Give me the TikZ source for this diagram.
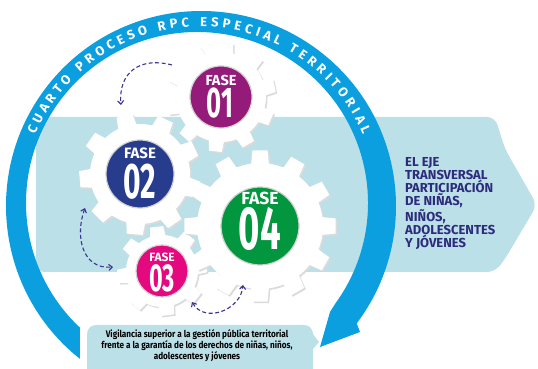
\documentclass[tikz,border=0pt]{standalone}
\usepackage{fontspec}
\setmainfont{Fira Sans}
\newfontfamily\numfont[FakeStretch=0.6]{Fira Sans}
\newfontfamily\condfont[FakeStretch=0.86]{Fira Sans}
\usetikzlibrary{positioning, arrows.meta, decorations.text}

\definecolor{ringblue}{HTML}{0B9FDF}
\definecolor{bandblue}{HTML}{BBE0E7}
\definecolor{fasepurple}{HTML}{951B7B}
\definecolor{fasenavy}{HTML}{283C8E}
\definecolor{fasepink}{HTML}{E4097F}
\definecolor{fasegreen}{HTML}{02963F}
\definecolor{ejeblue}{HTML}{2E2B7C}
\definecolor{dashblue}{HTML}{3A3590}

% gear: x, y, teeth, root radius, outer radius, rotation
\newcommand{\gear}[6]{%
  \foreach \sx/\sy/\gc in {1.5/-1.5/gray!28, 0/0/white}{
    \fill[fill=\gc, shift={(#1+\sx,#2+\sy)}, rotate=#6]
      ({0.73*360/#3}:#4)
      \foreach \t in {1,...,#3}{
        -- ({(\t-0.19)*360/#3}:#5) -- ({(\t+0.19)*360/#3}:#5)
        -- ({(\t+0.27)*360/#3}:#4)
        arc[start angle={(\t+0.27)*360/#3}, end angle={(\t+0.73)*360/#3}, radius=#4]
      } -- cycle;
  }}

\begin{document}
\begin{tikzpicture}[
    x=1pt, y=1pt,
    phase/.style={circle, draw=gray!35, line width=1.2pt, inner sep=0pt},
    fasetxt/.style={text=white, inner sep=0pt,
                    font=\bfseries\fontsize{#1}{#1}\selectfont},
    numtxt/.style={text=white, inner sep=0pt,
                   font=\numfont\bfseries\fontsize{#1}{#1}\selectfont},
    cycarr/.style={dashblue, line width=1.1pt, dash pattern=on 4pt off 2.5pt,
                   -{Straight Barb[length=3.5pt, width=6pt]}},
    ejetxt/.style={text=ejeblue, align=left, inner sep=0pt,
                   font=\bfseries\fontsize{13}{13.2}\selectfont},
    vigtxt/.style={text=black, align=center, inner sep=0pt,
                   font=\condfont\bfseries\fontsize{9.5}{10}\selectfont},
]
\useasboundingbox (0,0) rectangle (538,369);

% ===== BAND =====
\fill[bandblue, rounded corners=8pt]
    (36,252) -- (495,252) -- (505,220) -- (537,164) -- (505,110) -- (495,97) -- (36,97) -- cycle;

% ===== RING =====
\fill[ringblue] ([shift={(201,163)}]231.6:195) arc[start angle=231.6, end angle=-37, radius=195]
    -- (360,37) -- (320,22) -- (330,57)
    -- ([shift={(197,166)}]-36:171) arc[start angle=-36, end angle=226.8, radius=171] -- cycle;
\path[decorate, decoration={text along path, text color=white, text align={fit to path},
      text={|\bfseries\fontsize{13}{13}\selectfont|CUARTO PROCESO RPC ESPECIAL TERRITORIAL}}]
    ([shift={(199,164.5)}]157:178) arc[start angle=157, end angle=23, radius=178];

% ===== GEARS =====
\gear{221}{272}{10}{45}{55}{12}
\gear{140}{195}{9}{50}{61}{25}
\gear{162}{98}{8}{36}{45}{7}
\gear{260}{143}{12}{63}{76}{0}

\node[phase, fill=fasepurple, minimum size=62pt] (f1) at (221,272) {};
\node[phase, fill=fasenavy, minimum size=68pt] (f2) at (140,195) {};
\node[phase, fill=fasepink, minimum size=52pt] (f3) at (162,98) {};
\node[phase, fill=fasegreen, minimum size=78pt] (f4) at (260,143) {};

\node[fasetxt=14.5] (f1a) at ([yshift=17pt]f1.center) {FASE};
\node[numtxt=43] (f1b) at ([xshift=-1pt, yshift=-6pt]f1.center) {01};
\node[fasetxt=15] (f2a) at ([yshift=21pt]f2.center) {FASE};
\node[numtxt=50] (f2b) at ([yshift=-8pt]f2.center) {02};
\node[fasetxt=12] (f3a) at ([yshift=13.5pt]f3.center) {FASE};
\node[numtxt=39] (f3b) at ([yshift=-7.5pt]f3.center) {03};
\node[fasetxt=17.5] (f4a) at ([yshift=28pt]f4.center) {FASE};
\node[numtxt=61] (f4b) at ([yshift=-3pt]f4.center) {04};

% ===== DASHED TURN ARROWS =====
\coordinate (c1s) at (172,304);
\coordinate (c1e) at (121,264);
\coordinate (c2s) at (85,161);
\coordinate (c2e) at (113,102);
\coordinate (c3s) at (192,67);
\coordinate (c3e) at (243,84);
\draw[cycarr] (c1s) to[out=165, in=95, looseness=1.3] (c1e);
\draw[cycarr, {Straight Barb[length=3.5pt, width=6pt]}-{Straight Barb[length=3.5pt, width=6pt]}]
    (c2s) to[out=250, in=185, looseness=1.2] (c2e);
\draw[cycarr, {Straight Barb[length=3.5pt, width=6pt]}-{Straight Barb[length=3.5pt, width=6pt]}]
    (c3s) to[out=-60, in=-95, looseness=1.2] (c3e);

% ===== SIDE TEXT =====
\node[ejetxt, anchor=north west] (eje) at (405,212)
    {EL EJE\\TRANSVERSAL\\PARTICIPACIÓN\\DE NIÑAS,\\NIÑOS,\\ADOLESCENTES\\Y JÓVENES};

% ===== CALLOUT =====
\fill[bandblue, rounded corners=9pt] (87,-12) rectangle (313,44);
\fill[bandblue] (312,36) -- (319,27) -- (312,19) -- cycle;
\node[vigtxt] (vig) at (197,23)
    {Vigilancia superior a la gestión pública territorial\\
     frente a la garantía de los derechos de niñas, niños,\\
     adolescentes y jóvenes};

\end{tikzpicture}
\end{document}
